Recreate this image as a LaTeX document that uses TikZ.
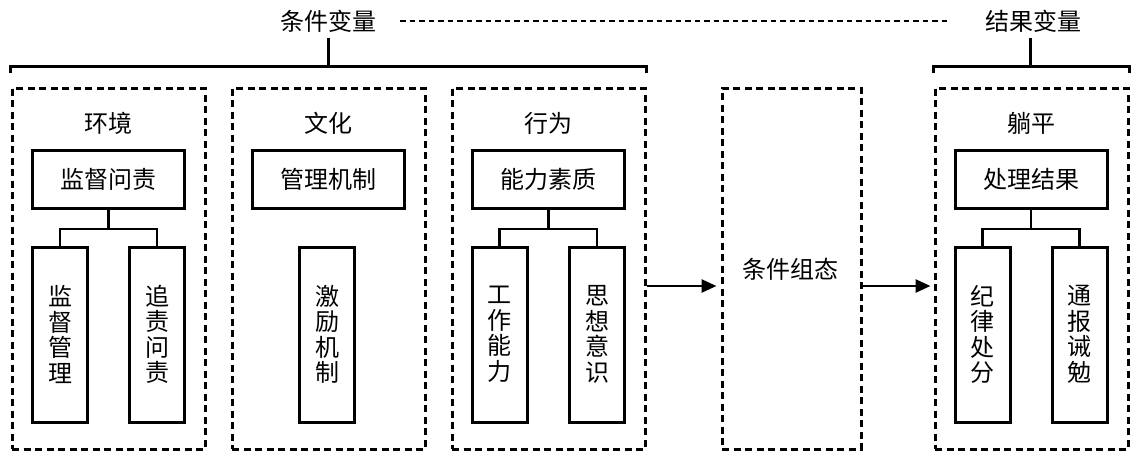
\documentclass[tikz,border=0pt]{standalone}
\usepackage{fontspec}
\setmainfont{Noto Sans CJK SC}
\usetikzlibrary{arrows.meta}
\tikzset{
  dbox/.style={draw, line width=3pt, dash pattern=on 7pt off 4.5pt, inner sep=0pt},
  sbox/.style={draw, line width=3pt, inner sep=0pt, font=\fontsize{24}{25.5}\selectfont},
  topbox/.style={sbox, minimum width=152pt, minimum height=58pt},
  leafbox/.style={sbox, minimum width=55pt, minimum height=175pt, align=center},
  lbl/.style={inner sep=0pt, font=\fontsize{24}{26}\selectfont},
  tree/.style={line width=2.7pt},
  bracketline/.style={line width=3pt},
  dotline/.style={line width=2.6pt, dash pattern=on 5.5pt off 4pt},
  arr/.style={line width=2.6pt, -{Triangle[length=15pt,width=13pt]}}
}
\begin{document}
\begin{tikzpicture}[x=1pt,y=-1pt]
\useasboundingbox[fill=white] (0,0) rectangle (1134,459);
% headers
\node[lbl] (T1) at (328,21) {条件变量};
\node[lbl] (T2) at (1033,21) {结果变量};
% dashed group boxes
\node[dbox, minimum width=193pt, minimum height=361pt] (B1) at (108.5,268.5) {};
\node[dbox, minimum width=193pt, minimum height=361pt] (B2) at (328.5,268.5) {};
\node[dbox, minimum width=193pt, minimum height=361pt] (B3) at (548.5,268.5) {};
\node[dbox, minimum width=139pt, minimum height=361pt] (B4) at (791.5,268.5) {};
\node[dbox, minimum width=193pt, minimum height=361pt] (B5) at (1031.5,268.5) {};
% titles
\node[lbl] (H1) at (108.5,123) {环境};
\node[lbl] (H2) at (328.5,123) {文化};
\node[lbl] (H3) at (548.5,123) {行为};
\node[lbl] (H5) at (1031.5,123) {躺平};
\node[lbl] (C4) at (790,269) {条件组态};
% top boxes
\node[topbox] (P1) at (108.5,179) {监督问责};
\node[topbox] (P2) at (328.5,179) {管理机制};
\node[topbox] (P3) at (548.5,179) {能力素质};
\node[topbox] (P5) at (1031,179) {处理结果};
% leaf boxes
\node[leafbox] (L1a) at (60,334.5) {监\\督\\管\\理};
\node[leafbox] (L1b) at (157,334.5) {追\\责\\问\\责};
\node[leafbox] (L2a) at (327,334.5) {激\\励\\机\\制};
\node[leafbox] (L3a) at (499.5,334.5) {工\\作\\能\\力};
\node[leafbox] (L3b) at (597,334.5) {思\\想\\意\\识};
\node[leafbox] (L5a) at (982.5,334.5) {纪\\律\\处\\分};
\node[leafbox] (L5b) at (1079.5,334.5) {通\\报\\诫\\勉};
% tree connectors
\coordinate (J1) at (108.5,229);
\coordinate (J3) at (548.5,229);
\coordinate (J5) at (1031,229);
\draw[tree] (P1.south) -- (J1);
\draw[tree] (L1a.north) |- (J1) -| (L1b.north);
\draw[tree] (P3.south) -- (J3);
\draw[tree] (L3a.north) |- (J3) -| (L3b.north);
\draw[tree] (P5.south) -- (J5);
\draw[tree] (L5a.north) |- (J5) -| (L5b.north);
% brackets
\draw[bracketline] ([yshift=14pt]B1.north west) -- ([yshift=20pt]B1.north west) -- ([yshift=20pt]B3.north east) -- ([yshift=14pt]B3.north east);
\draw[bracketline] ([yshift=14pt]B5.north west) -- ([yshift=20pt]B5.north west) -- ([yshift=20pt]B5.north east) -- ([yshift=14pt]B5.north east);
\coordinate (S1) at (328,68);
\coordinate (S5) at (1030,68);
\draw[bracketline, shorten <=6pt] (T1.south) -- (S1);
\draw[bracketline, shorten <=6pt] (T2.south -| S5) -- (S5);
% dotted link
\draw[dotline, shorten <=24pt, shorten >=35pt] (T1.east) -- (T2.west);
% arrows
\draw[arr, shorten >=4pt] (B3.east |- 0,286) -- (B4.west |- 0,286);
\draw[arr, shorten >=3pt] (B4.east |- 0,286) -- (B5.west |- 0,286);
\end{tikzpicture}
\end{document}
